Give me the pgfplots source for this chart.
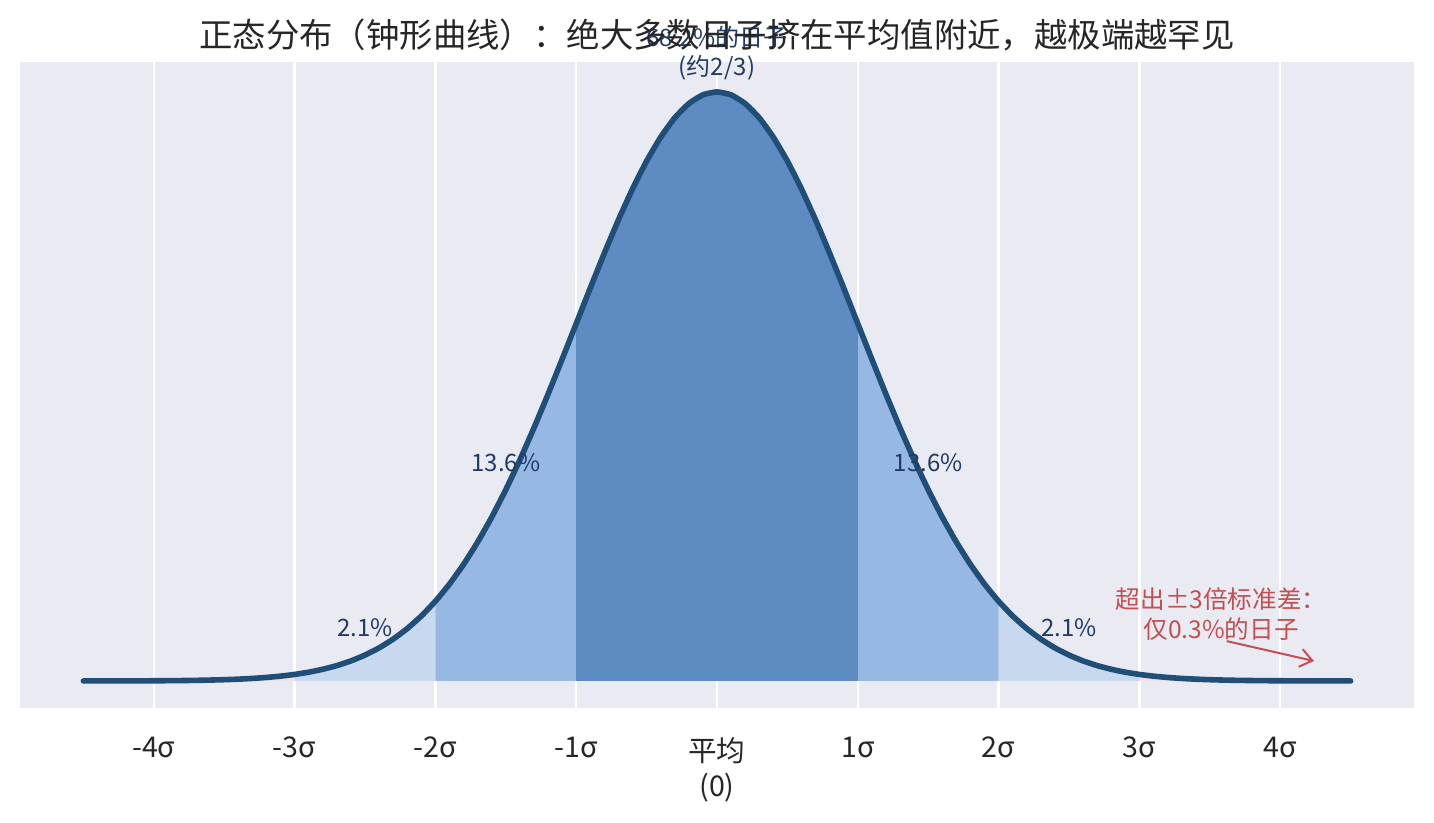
\documentclass[border=0pt]{standalone}
\usepackage{pgfplots}
\pgfplotsset{compat=1.18}
\usepackage{pgfplotstable}
\usepackage{fontspec}
\setmainfont{Noto Sans CJK SC}
\usetikzlibrary{arrows.meta}
\definecolor{bg}{HTML}{EAEAF2}
\definecolor{curve}{HTML}{1F4E79}
\definecolor{cA}{HTML}{5E8BC2}
\definecolor{cB}{HTML}{97B8E2}
\definecolor{cC}{HTML}{C8D9EF}
\definecolor{cD}{HTML}{EBE1E3}
\definecolor{lab}{HTML}{1F3A68}
\definecolor{red}{HTML}{C44E52}
\definecolor{txt}{HTML}{262626}
\pgfplotstableread{
x y
-4.5 0.00002
-4.4 0.00002
-4.3 0.00004
-4.2 0.00006
-4.1 0.00009
-4.0 0.00013
-3.9 0.00020
-3.8 0.00029
-3.7 0.00042
-3.6 0.00061
-3.5 0.00087
-3.4 0.00123
-3.3 0.00172
-3.2 0.00238
-3.1 0.00327
-3.0 0.00443
-2.9 0.00595
-2.8 0.00792
-2.7 0.01042
-2.6 0.01358
-2.5 0.01753
-2.4 0.02239
-2.3 0.02833
-2.2 0.03547
-2.1 0.04398
-2.0 0.05399
-1.9 0.06562
-1.8 0.07895
-1.7 0.09405
-1.6 0.11092
-1.5 0.12952
-1.4 0.14973
-1.3 0.17137
-1.2 0.19419
-1.1 0.21785
-1.0 0.24197
-0.9 0.26609
-0.8 0.28969
-0.7 0.31225
-0.6 0.33322
-0.5 0.35207
-0.4 0.36827
-0.3 0.38139
-0.2 0.39104
-0.1 0.39695
0.0 0.39894
0.1 0.39695
0.2 0.39104
0.3 0.38139
0.4 0.36827
0.5 0.35207
0.6 0.33322
0.7 0.31225
0.8 0.28969
0.9 0.26609
1.0 0.24197
1.1 0.21785
1.2 0.19419
1.3 0.17137
1.4 0.14973
1.5 0.12952
1.6 0.11092
1.7 0.09405
1.8 0.07895
1.9 0.06562
2.0 0.05399
2.1 0.04398
2.2 0.03547
2.3 0.02833
2.4 0.02239
2.5 0.01753
2.6 0.01358
2.7 0.01042
2.8 0.00792
2.9 0.00595
3.0 0.00443
3.1 0.00327
3.2 0.00238
3.3 0.00172
3.4 0.00123
3.5 0.00087
3.6 0.00061
3.7 0.00042
3.8 0.00029
3.9 0.00020
4.0 0.00013
4.1 0.00009
4.2 0.00006
4.3 0.00004
4.4 0.00002
4.5 0.00002
}\pdf
\begin{document}
\begin{tikzpicture}
\useasboundingbox (-10pt,-57.5pt) rectangle (707pt,354pt);
\begin{axis}[
  at={(0,0)}, anchor=south west,
  scale only axis, width=697pt, height=323pt,
  xmin=-4.95, xmax=4.95, ymin=-0.0183, ymax=0.4192,
  axis background/.style={fill=bg},
  axis line style={draw=none},
  major tick length=0pt,
  ytick=\empty,
  xtick={-4,-3,-2,-1,0,1,2,3,4},
  xticklabels={-4σ,-3σ,-2σ,-1σ,{平均\\(0)},1σ,2σ,3σ,4σ},
  xticklabel style={font=\fontsize{14.3}{17.5}\selectfont, text=txt, align=center, anchor=north, yshift=-11pt},
  xmajorgrids, grid style={white, line width=1.2pt},
  clip=false,
  every axis plot/.append style={line join=round},
]
\addplot[draw=none, fill=cD, restrict x to domain=-4.51:-2.999] table[x=x,y=y]{\pdf} \closedcycle;
\addplot[draw=none, fill=cD, restrict x to domain=2.999:4.51] table[x=x,y=y]{\pdf} \closedcycle;
\addplot[draw=none, fill=cC, restrict x to domain=-3.001:-1.999] table[x=x,y=y]{\pdf} \closedcycle;
\addplot[draw=none, fill=cC, restrict x to domain=1.999:3.001] table[x=x,y=y]{\pdf} \closedcycle;
\addplot[draw=none, fill=cB, restrict x to domain=-2.001:-0.999] table[x=x,y=y]{\pdf} \closedcycle;
\addplot[draw=none, fill=cB, restrict x to domain=0.999:2.001] table[x=x,y=y]{\pdf} \closedcycle;
\addplot[draw=none, fill=cA, restrict x to domain=-1.001:1.001] table[x=x,y=y]{\pdf} \closedcycle;
\addplot[curve, line width=2.8pt, line cap=round, smooth, tension=0.3] table[x=x,y=y]{\pdf};
\node[text=lab, font=\fontsize{12}{14.5}\selectfont, align=center] at (axis cs:0,0.425) {68.2\%的日子\\(约2/3)};
\node[text=lab, font=\fontsize{12}{14}\selectfont] at (axis cs:-1.5,0.1476) {13.6\%};
\node[text=lab, font=\fontsize{12}{14}\selectfont] at (axis cs:1.5,0.1476) {13.6\%};
\node[text=lab, font=\fontsize{12}{14}\selectfont] at (axis cs:-2.5,0.0359) {2.1\%};
\node[text=lab, font=\fontsize{12}{14}\selectfont] at (axis cs:2.5,0.0359) {2.1\%};
\node[text=red, font=\fontsize{12.3}{15}\selectfont, align=center] at (axis cs:3.58,0.0455) {超出±3倍标准差：\\仅0.3\%的日子};
\draw[red, line width=1pt, -{Straight Barb[length=6pt,width=9pt]}] (axis cs:3.62,0.027) -- (axis cs:4.24,0.0135);
\node[text=txt, font=\fontsize{16.7}{20}\selectfont] at (rel axis cs:0.5,1) [yshift=13.5pt] {正态分布（钟形曲线）：绝大多数日子挤在平均值附近，越极端越罕见};
\end{axis}
\end{tikzpicture}
\end{document}
